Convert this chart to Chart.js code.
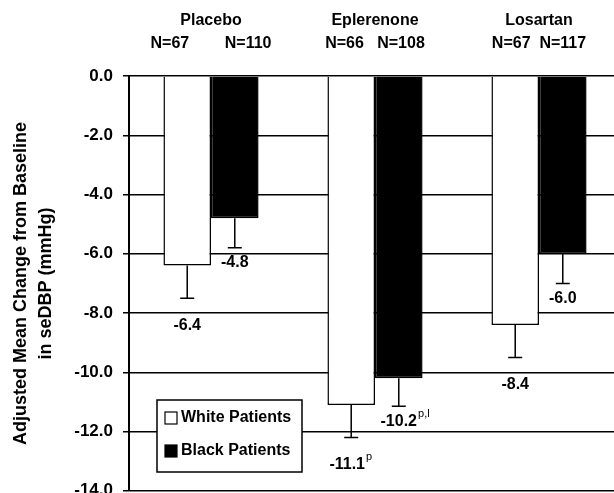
<!DOCTYPE html>
<html>
<head>
<meta charset="utf-8">
<script src="https://cdn.jsdelivr.net/npm/chart.js@4.4.1/dist/chart.umd.min.js"></script>
<style>
  html, body { margin: 0; padding: 0; background: #fff; overflow: hidden; }
  canvas { display: block; }
</style>
</head>
<body>
<canvas id="chart" width="622" height="511" style="width:622px;height:511px"></canvas>
<script>
const categories = ['Placebo', 'Eplerenone', 'Losartan'];
const groupSizes = ['N=67        N=110', 'N=66   N=108', 'N=67  N=117'];
const seriesNames = ['White Patients', 'Black Patients'];
const whiteValues = [-6.4, -11.1, -8.4];
const blackValues = [-4.8, -10.2, -6.0];
const whiteErrors = [1.1, 1.1, 1.1];
const blackErrors = [1.0, 0.95, 1.0];
const whiteNotes = ['', 'p', ''];
const blackNotes = ['', 'p,l', ''];
const yTicks = [0, -2, -4, -6, -8, -10, -12, -14];

const FONT = 'Liberation Sans, Arial, sans-serif';

// error bars + value labels, drawn from the bar elements
const errorBars = {
  id: 'errorBars',
  afterDatasetsDraw(chart) {
    const ctx = chart.ctx;
    const y = chart.scales.y;
    chart.data.datasets.forEach((ds, di) => {
      const meta = chart.getDatasetMeta(di);
      meta.data.forEach((bar, i) => {
        const v = ds.data[i];
        const yEnd = y.getPixelForValue(v - ds.errors[i]);
        ctx.save();
        ctx.strokeStyle = '#000';
        ctx.lineWidth = 1.5;
        ctx.beginPath();
        ctx.moveTo(bar.x, bar.y);
        ctx.lineTo(bar.x, yEnd);
        ctx.moveTo(bar.x - 7, yEnd);
        ctx.lineTo(bar.x + 7, yEnd);
        ctx.stroke();

        const text = v.toFixed(1);
        const ty = yEnd + (di === 0 ? 27 : 15);
        ctx.fillStyle = '#000';
        ctx.font = 'bold 16px ' + FONT;
        ctx.textBaseline = 'middle';
        ctx.textAlign = 'left';
        const w = ctx.measureText(text).width;
        const note = ds.notes[i];
        const tx = bar.x - w / 2 - (note && di === 0 ? 4 : 0);
        ctx.fillText(text, tx, ty);
        if (note) {
          ctx.font = '11px ' + FONT;
          ctx.fillText(note, tx + w + 1, ty - 7);
        }
        ctx.restore();
      });
    });
  }
};

// boxed legend inside the plot area
const boxLegend = {
  id: 'boxLegend',
  afterDatasetsDraw(chart) {
    const ctx = chart.ctx;
    const a = chart.chartArea;
    const x0 = a.left + 28, y0 = a.top + 324, w = 145, h = 72;
    ctx.save();
    ctx.fillStyle = '#fff';
    ctx.fillRect(x0, y0, w, h);
    ctx.strokeStyle = '#000';
    ctx.lineWidth = 1.5;
    ctx.strokeRect(x0, y0, w, h);
    chart.data.datasets.forEach((ds, i) => {
      const cy = y0 + 18 + i * 33;
      ctx.fillStyle = ds.backgroundColor;
      ctx.fillRect(x0 + 8, cy - 6, 12, 12);
      ctx.strokeStyle = '#000';
      ctx.lineWidth = 1.2;
      ctx.strokeRect(x0 + 8, cy - 6, 12, 12);
      ctx.fillStyle = '#000';
      ctx.font = 'bold 16px ' + FONT;
      ctx.textBaseline = 'middle';
      ctx.textAlign = 'left';
      ctx.fillText(ds.label, x0 + 24, cy);
    });
    ctx.restore();
  }
};

new Chart(document.getElementById('chart'), {
  type: 'bar',
  data: {
    labels: categories.map((c, i) => [c, groupSizes[i]]),
    datasets: [
      {
        label: seriesNames[0],
        data: whiteValues,
        errors: whiteErrors,
        notes: whiteNotes,
        backgroundColor: '#fff',
        borderColor: '#000',
        borderWidth: 1.5
      },
      {
        label: seriesNames[1],
        data: blackValues,
        errors: blackErrors,
        notes: blackNotes,
        backgroundColor: '#000',
        borderColor: '#000',
        borderWidth: 1.5
      }
    ]
  },
  options: {
    responsive: false,
    animation: false,
    categoryPercentage: 0.58,
    barPercentage: 1,
    layout: { autoPadding: false, padding: { left: 0, right: 1, top: 0, bottom: 0 } },
    plugins: {
      legend: { display: false },
      tooltip: { enabled: false }
    },
    scales: {
      x: {
        position: 'top',
        grid: { display: false, drawTicks: false },
        border: { display: false },
        ticks: {
          color: '#000',
          font: { family: FONT, size: 16, weight: 'bold', lineHeight: 1.45 },
          padding: 21,
          maxRotation: 0
        },
        afterFit(scale) { scale.height = 76; }
      },
      y: {
        min: -14,
        max: 0,
        afterBuildTicks(scale) { scale.ticks = yTicks.map(v => ({ value: v })); },
        grid: { color: '#000', lineWidth: 1.5, tickLength: 6 },
        border: { color: '#000', width: 2 },
        ticks: {
          color: '#000',
          font: { family: FONT, size: 17, weight: 'bold' },
          padding: 10,
          callback: v => v.toFixed(1)
        },
        title: {
          display: true,
          text: ['Adjusted Mean Change from Baseline', 'in seDBP (mmHg)'],
          color: '#000',
          font: { family: FONT, size: 18, weight: 'bold', lineHeight: 1.4 },
          padding: { top: 8, bottom: 0 }
        },
        afterFit(scale) { scale.width = 129; }
      }
    }
  },
  plugins: [errorBars, boxLegend]
});
</script>
</body>
</html>
